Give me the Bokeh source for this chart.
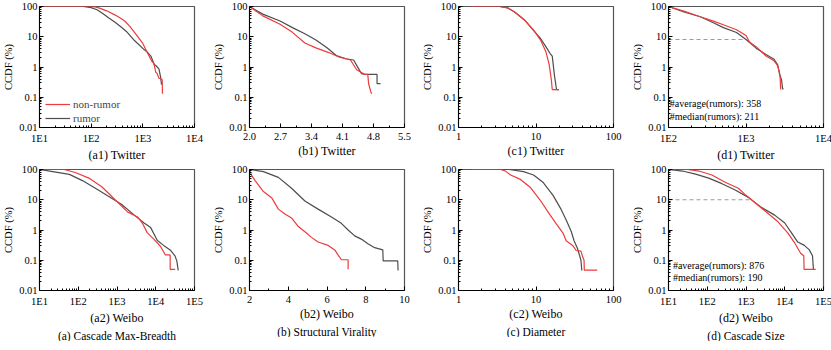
from bokeh.plotting import figure
from bokeh.models import (FixedTicker, CustomJSTickFormatter, Title, Legend,
                          LegendItem, Range1d)
from bokeh.layouts import column, row
from bokeh.embed import file_html
from bokeh.resources import INLINE
from bokeh.core.properties import value

FONT = "Liberation Serif"
RED = "#ee3b3b"
GRAY = "#4d4d4d"
DASH = "#9a9a9a"

# ---------------- data ----------------
# (a1) Twitter, cascade max-breadth
a1_nr_x = [10, 90, 120, 145, 200, 293, 400, 455, 560, 690, 1000, 1230, 1540, 1600, 1780, 1900, 2050, 2200, 2370, 2400]
a1_nr_y = [100, 100, 97, 88, 72, 52, 38, 32, 22, 14, 6, 2.9, 1.4, 1.5, 0.68, 0.6, 0.42, 0.42, 0.38, 0.13]
a1_r_x = [10, 70, 100, 130, 170, 220, 290, 380, 480, 690, 1070, 1200, 1430, 1670, 1800, 2050, 2200, 2300]
a1_r_y = [100, 100, 92, 78, 58, 42, 30, 21, 15, 7.5, 3.7, 3.2, 2.3, 1.2, 1.1, 0.87, 0.48, 0.26]
# (a2) Weibo
a2_nr_x = [10, 44, 87, 188, 405, 880, 1900, 3400, 4500, 6000, 8900, 13200, 17700, 23500, 23600, 31600]
a2_nr_y = [100, 100, 78, 52, 27, 10.2, 3.9, 2.7, 1.7, 0.82, 0.5, 0.29, 0.15, 0.15, 0.05, 0.05]
a2_r_x = [10, 22, 59, 128, 277, 600, 1300, 2800, 5000, 7400, 11000, 16000, 23500, 31400, 35000, 38000]
a2_r_y = [100, 85, 69, 43, 24, 13, 7.1, 3.1, 1.7, 1.2, 0.45, 0.31, 0.22, 0.14, 0.095, 0.046]
# (b1) Twitter, structural virality
b1_nr_x = [2.0, 2.3, 2.69, 2.97, 3.25, 3.5, 3.79, 4.03, 4.28, 4.42, 4.6, 4.67, 4.69, 4.74, 4.76]
b1_nr_y = [100, 49, 26, 14, 6.2, 4.3, 3.0, 2.1, 1.7, 0.81, 0.57, 0.57, 0.28, 0.15, 0.13]
b1_r_x = [2.0, 2.3, 2.69, 2.97, 3.25, 3.5, 3.75, 3.96, 4.18, 4.35, 4.46, 4.53, 4.6, 4.88, 4.88, 4.96]
b1_r_y = [100, 56, 33, 20, 12.6, 7.8, 4.3, 2.4, 1.87, 1.7, 0.9, 0.6, 0.57, 0.57, 0.28, 0.28]
# (b2) Weibo
b2_nr_x = [2, 2.1, 2.29, 2.72, 3.15, 3.49, 3.83, 4.17, 4.52, 4.86, 5.2, 5.54, 6.06, 6.4, 6.57, 6.74, 7.09, 7.09]
b2_nr_y = [100, 65, 43, 18.6, 11.5, 4.9, 3.4, 2.5, 1.3, 0.87, 0.57, 0.4, 0.31, 0.22, 0.15, 0.104, 0.104, 0.05]
b2_r_x = [2, 2.72, 3.49, 4.17, 4.86, 5.54, 6.23, 6.74, 7.09, 7.43, 7.77, 8.11, 8.46, 8.88, 8.9, 9.65, 9.67]
b2_r_y = [100, 85, 55, 24, 9.1, 4.9, 2.7, 1.66, 1.0, 0.64, 0.5, 0.35, 0.26, 0.22, 0.095, 0.095, 0.046]
# (c1) Twitter, diameter
c1_nr_x = [1.43, 3.4, 4.3, 5.3, 7.1, 9.5, 11.5, 13.4, 14.8, 15.8, 16.2, 19.7]
c1_nr_y = [100, 100, 90, 66, 36, 15.6, 7.6, 3.2, 1.2, 0.37, 0.18, 0.18]
c1_r_x = [1.43, 3.4, 4.3, 5.3, 7.1, 9.5, 11.5, 13.4, 15.5, 16.2, 17.4, 18.4, 19.7]
c1_r_y = [100, 100, 90, 66, 36, 15, 8.6, 4.7, 2.6, 2.3, 0.47, 0.18, 0.18]
# (c2) Weibo
c2_nr_x = [1.47, 3.5, 4.0, 4.7, 6.3, 8.4, 11.3, 15, 18.3, 22.3, 24.5, 29.7, 33, 38, 40, 41.7, 42, 61.6]
c2_nr_y = [100, 100, 90, 66, 47, 26, 9.8, 3.3, 1.6, 0.79, 0.44, 0.31, 0.21, 0.2, 0.13, 0.1, 0.047, 0.047]
c2_r_x = [1.47, 4.5, 6.9, 9.3, 12.4, 16.6, 21.1, 24.6, 28.5, 31, 34.4, 38, 39]
c2_r_y = [100, 100, 85, 66, 37, 14, 4.8, 2.1, 0.89, 0.44, 0.24, 0.1, 0.046]
# (d1) Twitter, cascade size
d1_nr_x = [100, 158, 257, 380, 510, 755, 1000, 1110, 1350, 1810, 2300, 2560, 2700, 2750, 2800]
d1_nr_y = [100, 70, 46, 33, 25, 17, 11, 6.7, 4.7, 2.3, 1.6, 1.1, 0.68, 0.48, 0.18]
d1_r_x = [100, 158, 257, 380, 510, 755, 1000, 1350, 1810, 2300, 2560, 2700, 2880, 2960, 3030]
d1_r_y = [100, 66, 46, 29, 20, 13.8, 8.1, 4.2, 2.6, 1.8, 1.2, 0.6, 0.37, 0.2, 0.18]
d1_dash_x = [100, 1000]
d1_dash_y = [8.1, 8.1]
d1_notes = ["#average(rumors): 358", "#median(rumors):  211"]
# (d2) Weibo
d2_nr_x = [10, 31, 61, 132, 290, 635, 1000, 1380, 3000, 6600, 11800, 17500, 25700, 31000, 31500, 63000]
d2_nr_y = [100, 100, 89, 66, 38, 24, 14, 10, 4.4, 1.9, 0.82, 0.4, 0.17, 0.14, 0.05, 0.05]
d2_r_x = [10, 23, 50, 109, 240, 525, 1150, 2500, 5500, 10000, 14800, 21700, 32000, 43000, 52000, 55000, 57000]
d2_r_y = [100, 89, 70, 52, 34, 21, 12, 5.6, 3.1, 1.7, 0.82, 0.4, 0.31, 0.22, 0.14, 0.05, 0.05]
d2_dash_x = [10, 1300]
d2_dash_y = [10, 10]
d2_notes = ["#average(rumors): 876", "#median(rumors):  190"]

# tick labels
y_ticks = [0.01, 0.1, 1, 10, 100]
y_labels = ["0.01", "0.1", "1", "10", "100"]
e1e4_ticks = [10, 100, 1000, 10000]
e1e4_labels = ["1E1", "1E2", "1E3", "1E4"]
e1e5_ticks = [10, 100, 1000, 10000, 100000]
e1e5_labels = ["1E1", "1E2", "1E3", "1E4", "1E5"]
e2e4_ticks = [100, 1000, 10000]
e2e4_labels = ["1E2", "1E3", "1E4"]
one100_ticks = [1, 10, 100]
one100_labels = ["1", "10", "100"]
b1_ticks = [2.0, 2.7, 3.4, 4.1, 4.8, 5.5]
b1_labels = ["2.0", "2.7", "3.4", "4.1", "4.8", "5.5"]
b2_ticks = [2, 4, 6, 8, 10]
b2_labels = ["2", "4", "6", "8", "10"]


def log_minor(ticks):
    out = []
    for t in ticks[:-1]:
        out += [t * m for m in range(2, 10)]
    return out


def lin_minor(ticks):
    return [(a + b) / 2 for a, b in zip(ticks[:-1], ticks[1:])]


def formatter(ticks, labels):
    return CustomJSTickFormatter(args=dict(t=ticks, l=labels), code="""
        let best = 0, bd = Infinity;
        for (let i = 0; i < t.length; i++) {
            const d = Math.abs(tick - t[i]) / Math.abs(t[i]);
            if (d < bd) { bd = d; best = i; }
        }
        return l[best];
    """)


def panel(xtype, xr, xticks, xlabels, xlabel, rb, top_row, bottom_title=None):
    p = figure(x_axis_type=xtype, y_axis_type="log",
               x_range=Range1d(*xr), y_range=Range1d(0.01, 100),
               frame_width=155, frame_height=121,
               min_border_left=35, min_border_right=rb,
               min_border_top=6 if top_row else 5, min_border_bottom=0,
               output_backend="svg", toolbar_location=None)
    p.grid.visible = False
    p.outline_line_color = "#555555"
    p.outline_line_width = 1.2
    xminor = log_minor(xticks) if xtype == "log" else lin_minor(xticks)
    p.xaxis.ticker = FixedTicker(ticks=xticks, minor_ticks=xminor)
    p.xaxis.formatter = formatter(xticks, xlabels)
    p.yaxis.ticker = FixedTicker(ticks=y_ticks, minor_ticks=log_minor(y_ticks))
    p.yaxis.formatter = formatter(y_ticks, y_labels)
    for ax in (p.xaxis[0], p.yaxis[0]):
        ax.major_tick_in = 4
        ax.major_tick_out = 0
        ax.minor_tick_in = 2
        ax.minor_tick_out = 0
        ax.major_label_text_font = FONT
        ax.major_label_text_font_size = "10.5px"
        ax.major_label_text_color = "black"
        ax.axis_label_text_font = FONT
        ax.axis_label_text_font_style = "normal"
        ax.axis_label_text_color = "black"
        ax.axis_line_color = "black"
        ax.major_tick_line_color = "black"
        ax.minor_tick_line_color = "black"
    p.xaxis.major_label_standoff = 5
    p.xaxis.axis_label = xlabel
    p.xaxis.axis_label_standoff = 1
    p.xaxis.axis_label_text_font_size = "12px"
    p.yaxis.major_label_standoff = 2
    p.yaxis.axis_label = "CCDF (%)"
    p.yaxis.axis_label_standoff = 2
    p.yaxis.axis_label_text_font_size = "10.5px"
    if bottom_title:
        t = Title(text=bottom_title, align="center", text_font=FONT,
                  text_font_size="11.5px", text_font_style="normal",
                  text_color="black", standoff=0, offset=0)
        p.add_layout(t, "below")
    return p


def curves(p, rx, ry, nx, ny):
    rg = p.line(rx, ry, line_color=GRAY, line_width=1.2)
    rr = p.line(nx, ny, line_color=RED, line_width=1.2)
    return rr, rg


def notes(p, xs, ys, texts):
    p.text(x=xs, y=ys, text=texts, text_font=value(FONT), text_font_size="10px",
           text_baseline="middle", text_align="left", text_color="black")


# ---------------- row 1 ----------------
pa1 = panel("log", (10, 10000), e1e4_ticks, e1e4_labels, "(a1) Twitter", 16, True)
rr, rg = curves(pa1, a1_r_x, a1_r_y, a1_nr_x, a1_nr_y)
leg = Legend(items=[LegendItem(label="non-rumor", renderers=[rr]),
                    LegendItem(label="rumor", renderers=[rg])],
             location=(4, 0), border_line_alpha=0, background_fill_alpha=0,
             label_text_font=FONT, label_text_font_size="11px",
             glyph_width=25, glyph_height=14, label_height=14, spacing=0,
             padding=2, margin=0, label_standoff=3)
pa1.add_layout(leg)

pb1 = panel("linear", (2.0, 5.5), b1_ticks, b1_labels, "(b1) Twitter", 15, True)
curves(pb1, b1_r_x, b1_r_y, b1_nr_x, b1_nr_y)

pc1 = panel("log", (1, 100), one100_ticks, one100_labels, "(c1) Twitter", 16, True)
curves(pc1, c1_r_x, c1_r_y, c1_nr_x, c1_nr_y)

pd1 = panel("log", (100, 10000), e2e4_ticks, e2e4_labels, "(d1) Twitter", 10, True)
pd1.line(d1_dash_x, d1_dash_y, line_color=DASH, line_dash="4 3", line_width=1)
curves(pd1, d1_r_x, d1_r_y, d1_nr_x, d1_nr_y)
notes(pd1, [104, 104], [0.06, 0.023], d1_notes)

# ---------------- row 2 ----------------
pa2 = panel("log", (10, 100000), e1e5_ticks, e1e5_labels, "(a2) Weibo", 16, False,
            "(a) Cascade Max-Breadth")
curves(pa2, a2_r_x, a2_r_y, a2_nr_x, a2_nr_y)

pb2 = panel("linear", (2, 10), b2_ticks, b2_labels, "(b2) Weibo", 15, False,
            "(b) Structural Virality")
curves(pb2, b2_r_x, b2_r_y, b2_nr_x, b2_nr_y)

pc2 = panel("log", (1, 100), one100_ticks, one100_labels, "(c2) Weibo", 16, False,
            "(c) Diameter")
curves(pc2, c2_r_x, c2_r_y, c2_nr_x, c2_nr_y)

pd2 = panel("log", (10, 100000), e1e5_ticks, e1e5_labels, "(d2) Weibo", 10, False,
            "(d) Cascade Size")
pd2.line(d2_dash_x, d2_dash_y, line_color=DASH, line_dash="4 3", line_width=1)
curves(pd2, d2_r_x, d2_r_y, d2_nr_x, d2_nr_y)
notes(pd2, [13, 13], [0.065, 0.026], d2_notes)

layout = column(row(pa1, pb1, pc1, pd1), row(pa2, pb2, pc2, pd2))
open("out.html", "w").write(file_html(layout, INLINE))
